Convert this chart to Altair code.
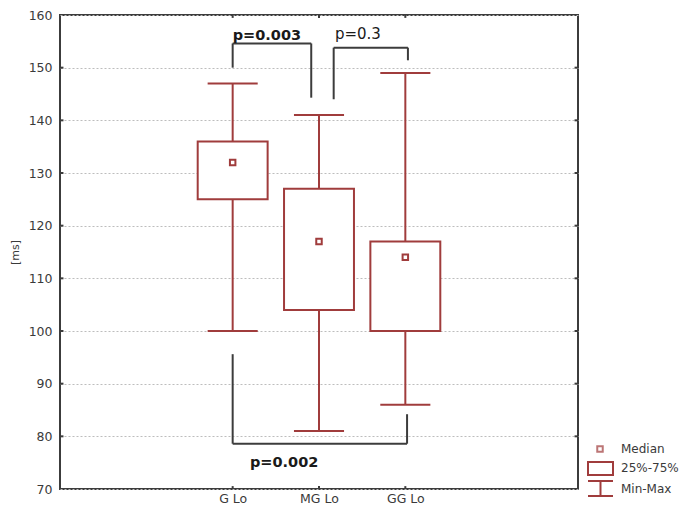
import altair as alt
import pandas as pd

# ---- data ----
categories = ["G Lo", "MG Lo", "GG Lo"]
positions = [2, 3, 4]
mins = [100, 81, 86]
q1s = [125, 104, 100]
medians = [132, 117, 114]
q3s = [136, 127, 117]
maxs = [147, 141, 149]

y_ticks = [70, 80, 90, 100, 110, 120, 130, 140, 150, 160]

# significance brackets: segments (x1, y1, x2, y2) in data units
seg_x1 = [2.0, 2.0, 2.91, 3.17, 3.17, 4.03, 2.0, 2.0, 4.02]
seg_y1 = [150.0, 154.6, 154.6, 144.0, 153.8, 153.8, 95.6, 78.6, 78.6]
seg_x2 = [2.0, 2.91, 2.91, 3.17, 4.03, 4.03, 2.0, 4.02, 4.02]
seg_y2 = [154.6, 154.6, 144.3, 153.8, 153.8, 151.4, 78.6, 78.6, 84.2]

p_labels = ["p=0.003", "p=0.3", "p=0.002"]
p_x = [2.0, 3.185, 2.2]
p_y = [156.1, 156.3, 74.85]
p_bold = [True, False, True]

legend_labels = ["Median", "25%-75%", "Min-Max"]

RED = "#a03c3c"
DARK = "#3c3c3c"
FONT = "DejaVu Sans"

df = pd.DataFrame({"cat": categories, "pos": positions, "mn": mins, "q1": q1s,
                   "med": medians, "q3": q3s, "mx": maxs})
seg = pd.DataFrame({"x1": seg_x1, "y1": seg_y1, "x2": seg_x2, "y2": seg_y2})
ptxt = pd.DataFrame({"t": p_labels, "x": p_x, "y": p_y, "b": p_bold})
ticks_df = pd.DataFrame({"v": y_ticks[1:-1]})
cat_df = pd.DataFrame({"pos": positions})

label_expr = " : ".join(
    [f"datum.value == {p} ? '{c}'" for p, c in zip(positions, categories)]) + " : ''"

xscale = alt.Scale(domain=[0, 6], nice=False, zero=False)
yscale = alt.Scale(domain=[70, 160], nice=False, zero=False)
xaxis = alt.Axis(values=positions, labelExpr=label_expr, ticks=False, grid=False,
                 domain=False, title=None, labelFont=FONT, labelFontSize=12.5,
                 labelColor="#3a3a3a", labelPadding=3)
yaxis = alt.Axis(values=y_ticks, ticks=False, domain=False, grid=True,
                 gridDash=[2, 2], gridColor="#bdbdbd", gridWidth=1,
                 title="[ms]", titleFont=FONT, titleFontSize=11,
                 titleFontWeight="normal", titleColor="#3a3a3a", titlePadding=8,
                 labelFont=FONT, labelFontSize=12.5, labelColor="#3a3a3a",
                 labelPadding=8)


def X(f):
    return alt.X(f, type="quantitative", scale=xscale, axis=xaxis)


def Y(f):
    return alt.Y(f, type="quantitative", scale=yscale, axis=yaxis)


base = alt.Chart(df)

whisk_lo = base.mark_rule(color=RED, strokeWidth=2).encode(x=X("pos"), y=Y("mn"), y2="q1")
whisk_hi = base.mark_rule(color=RED, strokeWidth=2).encode(x=X("pos"), y=Y("q3"), y2="mx")
cap_lo = base.mark_rule(color=RED, strokeWidth=2).transform_calculate(
    a="datum.pos - 0.29", b="datum.pos + 0.29").encode(x=X("a"), x2="b", y=Y("mn"))
cap_hi = base.mark_rule(color=RED, strokeWidth=2).transform_calculate(
    a="datum.pos - 0.29", b="datum.pos + 0.29").encode(x=X("a"), x2="b", y=Y("mx"))
box = base.mark_rect(fill="white", stroke=RED, strokeWidth=2).transform_calculate(
    a="datum.pos - 0.405", b="datum.pos + 0.405").encode(x=X("a"), x2="b", y=Y("q1"), y2="q3")
med = base.mark_point(shape="square", filled=False, color=RED, size=30,
                      strokeWidth=2, opacity=1).encode(x=X("pos"), y=Y("med"))

brackets = alt.Chart(seg).mark_rule(color=DARK, strokeWidth=2).encode(
    x=X("x1"), y=Y("y1"), x2="x2", y2="y2")

ptext_b = alt.Chart(ptxt).transform_filter("datum.b").mark_text(
    align="left", baseline="middle", font=FONT, fontSize=14.5, fontWeight="bold",
    color="#1a1a1a").encode(x=X("x"), y=Y("y"), text="t:N")
ptext_n = alt.Chart(ptxt).transform_filter("!datum.b").mark_text(
    align="left", baseline="middle", font=FONT, fontSize=15, color="#1a1a1a").encode(
    x=X("x"), y=Y("y"), text="t:N")

# inward ticks on the frame
lt = alt.Chart(ticks_df).mark_rule(color=DARK, strokeWidth=2).encode(
    y=Y("v"), x=alt.datum(0, scale=xscale), x2=alt.datum(0.04))
rt = alt.Chart(ticks_df).mark_rule(color=DARK, strokeWidth=2).encode(
    y=Y("v"), x=alt.datum(6, scale=xscale), x2=alt.datum(5.96))
tt = alt.Chart(cat_df).mark_rule(color=DARK, strokeWidth=2).encode(
    x=X("pos"), y=alt.datum(160, scale=yscale), y2=alt.datum(159.45))
bt = alt.Chart(cat_df).mark_rule(color=DARK, strokeWidth=2).encode(
    x=X("pos"), y=alt.datum(70, scale=yscale), y2=alt.datum(70.55))

# custom legend (outside the plot area, bottom right)
one = pd.DataFrame({"k": [0]})
lg_med = alt.Chart(one).mark_point(shape="square", filled=False, color=RED, size=30,
                                   strokeWidth=2, clip=False).encode(
    x=alt.value(540), y=alt.value(434))
lg_box = alt.Chart(one).mark_rect(fill="white", stroke=RED, strokeWidth=2, clip=False).encode(
    x=alt.value(528), x2=alt.value(553), y=alt.value(447), y2=alt.value(460))
lg_w1 = alt.Chart(one).mark_rule(color=RED, strokeWidth=2, clip=False).encode(
    x=alt.value(528), x2=alt.value(553), y=alt.value(466))
lg_w2 = alt.Chart(one).mark_rule(color=RED, strokeWidth=2, clip=False).encode(
    x=alt.value(540.5), y=alt.value(466), y2=alt.value(481))
lg_w3 = alt.Chart(one).mark_rule(color=RED, strokeWidth=2, clip=False).encode(
    x=alt.value(528), x2=alt.value(553), y=alt.value(481))
lg_texts = []
for lab, yy in zip(legend_labels, [434, 453, 474]):
    lg_texts.append(alt.Chart(one).mark_text(
        align="left", baseline="middle", font=FONT, fontSize=12, color="#3a3a3a",
        text=lab).encode(x=alt.value(561), y=alt.value(yy)))

chart = alt.layer(
    whisk_lo, whisk_hi, cap_lo, cap_hi, box, med, brackets, ptext_b, ptext_n,
    lt, rt, tt, bt, lg_med, lg_box, lg_w1, lg_w2, lg_w3, *lg_texts
).properties(
    width=518, height=474,
    background="white",
    autosize=alt.AutoSizeParams(type="none"),
    padding={"left": 52, "top": 7, "right": 102, "bottom": 15},
).configure_view(stroke=DARK, strokeWidth=2)

chart.save("out.html", embed_options={"renderer": "svg", "actions": False})
